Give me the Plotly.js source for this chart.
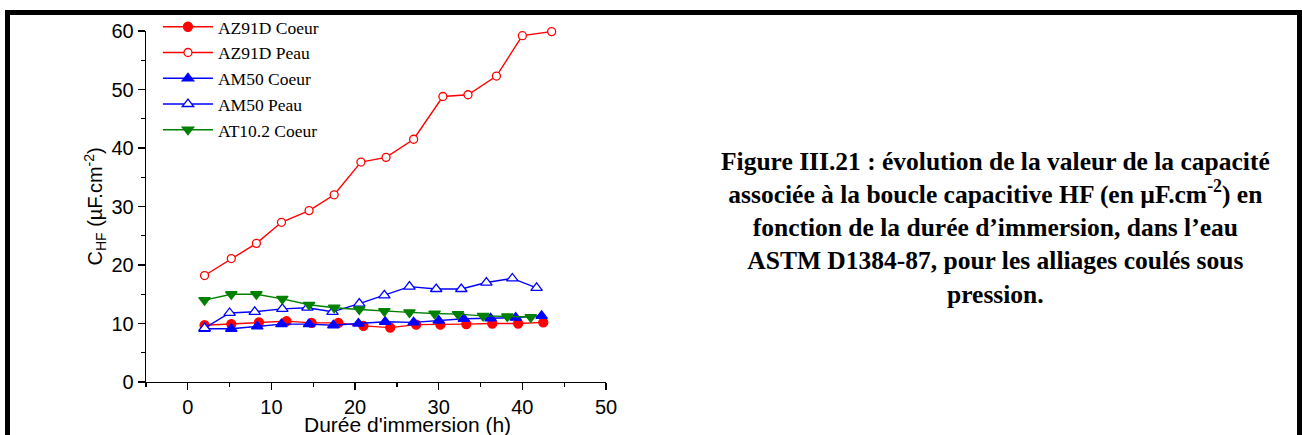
<!DOCTYPE html>
<html>
<head>
<meta charset="utf-8">
<script src="https://cdn.plot.ly/plotly-3.0.1.min.js"></script>
<style>
  html, body { margin: 0; padding: 0; background: #ffffff; }
  #wrap { position: relative; width: 1302px; height: 435px; overflow: hidden; }
  #chart { position: absolute; left: 0; top: 0; width: 1302px; height: 435px; }
  #frame { position: absolute; left: 5px; top: 10px; width: 1287px; height: 440px;
           border: 5px solid #000; pointer-events: none; box-sizing: content-box; }
</style>
</head>
<body>
<div id="wrap">
  <div id="chart"></div>
  <div id="frame"></div>
</div>
<script>
// ---- data ----
const seriesNames = ["AZ91D Coeur", "AZ91D Peau", "AM50 Coeur", "AM50 Peau", "AT10.2 Coeur"];

const az91dCoeurX = [2.0, 5.2, 8.5, 11.8, 14.8, 18.0, 21.0, 24.2, 27.3, 30.2, 33.3, 36.4, 39.5, 42.5];
const az91dCoeurY = [9.7, 9.9, 10.2, 10.4, 10.1, 10.1, 9.6, 9.3, 9.8, 9.8, 9.9, 10.0, 10.0, 10.2];

const az91dPeauX = [2.0, 5.2, 8.2, 11.2, 14.5, 17.5, 20.7, 23.7, 27.0, 30.5, 33.5, 36.9, 40.0, 43.5];
const az91dPeauY = [18.2, 21.1, 23.7, 27.3, 29.3, 32.0, 37.6, 38.4, 41.5, 48.8, 49.1, 52.3, 59.2, 59.9];

const am50CoeurX = [2.0, 5.2, 8.3, 11.2, 14.5, 17.4, 20.4, 23.6, 27.0, 30.0, 33.0, 36.2, 39.2, 42.3];
const am50CoeurY = [9.1, 9.1, 9.5, 9.9, 9.9, 9.7, 10.0, 10.3, 10.2, 10.5, 10.8, 10.9, 11.0, 11.3];

const am50PeauX = [2.0, 5.0, 8.0, 11.3, 14.3, 17.3, 20.5, 23.5, 26.5, 29.7, 32.7, 35.7, 38.8, 41.7];
const am50PeauY = [9.2, 11.8, 12.0, 12.5, 12.7, 12.0, 13.4, 14.8, 16.3, 15.9, 15.9, 17.0, 17.7, 16.1];

const at102CoeurX = [2.0, 5.2, 8.2, 11.3, 14.5, 17.5, 20.5, 23.5, 26.5, 29.5, 32.3, 35.3, 38.2, 41.0];
const at102CoeurY = [14.0, 15.0, 15.0, 14.2, 13.2, 12.7, 12.4, 12.1, 11.9, 11.7, 11.6, 11.3, 11.2, 11.1];

const xTicks = [0, 10, 20, 30, 40, 50];
const yTicks = [0, 10, 20, 30, 40, 50, 60];

const captionLines = [
  "Figure III.21 : évolution de la valeur de la capacité",
  "associée à la boucle capacitive HF (en µF.cm<sup>-2</sup>) en",
  "fonction de la durée d’immersion, dans l’eau",
  "ASTM D1384-87, pour les alliages coulés sous",
  "pression."
];

// ---- traces ----
const RED = "#ff0000", BLUE = "#0000ff", GREEN = "#008000";
function tr(name, x, y, color, symbol, filled, size) {
  return {
    type: "scatter", mode: "lines+markers", name: name, x: x, y: y,
    line: { color: color, width: 1.4 },
    marker: { symbol: symbol, size: size, color: filled ? color : "#ffffff",
              line: { color: color, width: 1.3 } },
    cliponaxis: false
  };
}
const data = [
  tr(seriesNames[0], az91dCoeurX, az91dCoeurY, RED, "circle", true, 9),
  tr(seriesNames[1], az91dPeauX, az91dPeauY, RED, "circle", false, 8),
  tr(seriesNames[2], am50CoeurX, am50CoeurY, BLUE, "triangle-up", true, 10),
  tr(seriesNames[3], am50PeauX, am50PeauY, BLUE, "triangle-up", false, 10),
  tr(seriesNames[4], at102CoeurX, at102CoeurY, GREEN, "triangle-down", true, 10)
];

const SANS = "Liberation Sans, Arial, sans-serif";
const SERIF = "Liberation Serif, Times New Roman, serif";

const axisCommon = {
  showgrid: false, zeroline: false, showline: true, linecolor: "#000", linewidth: 1.3,
  ticks: "outside", ticklen: 7, tickwidth: 1.3, tickcolor: "#000",
  tickfont: { family: SANS, size: 20, color: "#000" },
  minor: { ticks: "outside", ticklen: 4, tickwidth: 1.3, tickcolor: "#000", dtick: 5, showgrid: false }
};

const layout = {
  width: 1302, height: 435,
  margin: { l: 146, r: 696, t: 31, b: 53, autoexpand: false },
  paper_bgcolor: "#ffffff", plot_bgcolor: "#ffffff",
  showlegend: true,
  xaxis: Object.assign({}, axisCommon, {
    range: [-5, 50], tickmode: "array", tickvals: xTicks, ticktext: xTicks.map(String),
    minor: Object.assign({}, axisCommon.minor, { tick0: -5 })
  }),
  yaxis: Object.assign({}, axisCommon, {
    range: [0, 60], tickmode: "array", tickvals: yTicks, ticktext: yTicks.map(String)
  }),
  legend: {
    x: 0.026, y: 1.063, xanchor: "left", yanchor: "top",
    bgcolor: "rgba(0,0,0,0)", borderwidth: 0,
    font: { family: SERIF, size: 17.5, color: "#000" },
    itemwidth: 50, tracegroupgap: 0
  },
  annotations: [
    { text: "Durée d'immersion (h)", xref: "x", yref: "paper", x: 26.3, y: -0.1225,
      xanchor: "center", yanchor: "middle", showarrow: false,
      font: { family: SANS, size: 21, color: "#000" } },
    { text: "C<sub>HF</sub> (µF.cm<sup>-2</sup>)", xref: "paper", yref: "paper",
      x: (95 - 146) / 460, y: 0.5, xanchor: "center", yanchor: "middle", textangle: -90,
      showarrow: false, font: { family: SANS, size: 20, color: "#000" } },
    { text: "<b>" + captionLines.join("<br>") + "</b>", xref: "paper", yref: "paper",
      x: (995 - 146) / 460, y: (382 - 228) / 351, xanchor: "center", yanchor: "middle",
      align: "center", showarrow: false,
      font: { family: SERIF, size: 25.5, color: "#000" } }
  ]
};

Plotly.newPlot("chart", data, layout, { displayModeBar: false, staticPlot: true });
</script>
</body>
</html>
